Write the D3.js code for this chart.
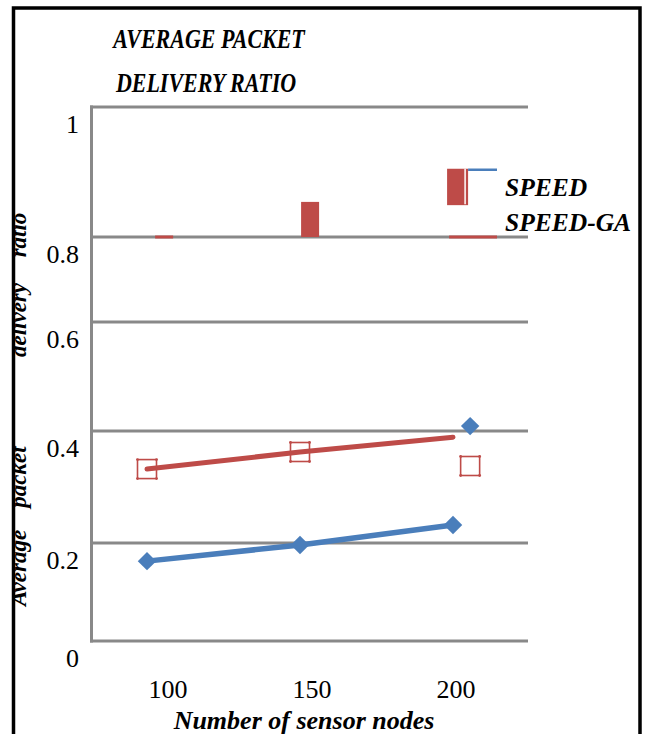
<!DOCTYPE html>
<html>
<head>
<meta charset="utf-8">
<script src="https://cdn.jsdelivr.net/npm/d3@7"></script>
<style>
  html, body { margin: 0; padding: 0; background: #fff; }
  svg { display: block; }
  text { font-family: "Liberation Serif", "Times New Roman", serif; }
</style>
</head>
<body>
<script>
// Number of sensor nodes on the x axis
const nodes = [100, 150, 200];
// Average packet delivery ratio per protocol
const speedValues = [0.163, 0.196, 0.232];
const speedGaValues = [0.332, 0.3625, 0.389];
// Stray markers drawn beside the last category
const speedExtra = { x: 205.6, v: 0.409 };
const speedGaExtra = { x: 205.6, v: 0.3375 };
// Y ticks and x tick labels
const yTicks = [0, 0.2, 0.4, 0.6, 0.8, 1];
const yTickLabels = ["0", "0.2", "0.4", "0.6", "0.8", "1"];
const xTickLabels = ["100", "150", "200"];
// Legend swatch blocks (x in node units, value range)
const swatchBlocks = [
  { x: 105.6, w: 18, v0: 0.8, v1: 0.8 },
  { x: 153.3, w: 18, v0: 0.8, v1: 0.854 },
  { x: 201.5, w: 21, v0: 0.849, v1: 0.905 }
];
const seriesNames = ["SPEED", "SPEED-GA"];

const W = 647, H = 734;
const BLUE = "#4a7ebb", RED = "#be4b48", GRID = "#898989";

const svg = d3.select("body").append("svg").attr("width", W).attr("height", H);

// Scales: y follows the chart's uneven grid spacing
const x = d3.scaleLinear().domain([100, 200]).range([147, 453]);
const xLab = d3.scaleLinear().domain([100, 200]).range([168, 456]);
const y = d3.scaleLinear().domain(yTicks).range([641, 543, 431, 322, 237, 107]);

// Outer frame
svg.append("path")
  .attr("d", `M13.5,${H + 5} V8 H640 V${H + 5}`)
  .attr("fill", "none").attr("stroke", "#000").attr("stroke-width", 3.5);

// Title (slightly tall lettering)
[["AVERAGE PACKET", 209, 48], ["DELIVERY RATIO", 206, 92]].forEach(([t, tx, ty]) => {
  svg.append("text")
    .attr("transform", `translate(${tx},${ty}) scale(1,1.2)`)
    .attr("text-anchor", "middle")
    .attr("font-weight", "bold").attr("font-style", "italic")
    .attr("font-size", 22)
    .text(t);
});

// Horizontal gridlines
const plotRight = 528;
svg.append("g").selectAll("line").data(yTicks).join("line")
  .attr("x1", 90).attr("x2", plotRight)
  .attr("y1", d => y(d)).attr("y2", d => y(d))
  .attr("stroke", GRID).attr("stroke-width", 3);
// Left plot edge
svg.append("line")
  .attr("x1", 91.5).attr("x2", 91.5).attr("y1", y(1) - 1.5).attr("y2", y(0) + 1.5)
  .attr("stroke", GRID).attr("stroke-width", 3);

// Y tick labels
svg.append("g").selectAll("text").data(yTicks).join("text")
  .attr("x", 79).attr("y", d => y(d) + 26)
  .attr("text-anchor", "end").attr("font-size", 26)
  .text((d, i) => yTickLabels[i]);

// X tick labels
svg.append("g").selectAll("text").data(nodes).join("text")
  .attr("x", d => xLab(d)).attr("y", 698)
  .attr("text-anchor", "middle").attr("font-size", 26)
  .text((d, i) => xTickLabels[i]);

// X axis title
svg.append("text")
  .attr("x", 304).attr("y", 729).attr("text-anchor", "middle")
  .attr("font-weight", "bold").attr("font-style", "italic").attr("font-size", 26)
  .text("Number of sensor nodes");

// Y axis title, clipped by the frame
svg.append("clipPath").attr("id", "ytclip")
  .append("rect").attr("x", 15).attr("y", 0).attr("width", 60).attr("height", H);
const yWords = [
  { w: "Average", c: 568 },
  { w: "packet", c: 477 },
  { w: "delivery", c: 320 },
  { w: "ratio", c: 235 }
];
const yt = svg.append("g").attr("clip-path", "url(#ytclip)");
yt.selectAll("text").data(yWords).join("text")
  .attr("transform", d => `translate(26,${d.c}) rotate(-90)`)
  .attr("text-anchor", "middle")
  .attr("font-weight", "bold").attr("font-style", "italic").attr("font-size", 23)
  .text(d => d.w);

// Legend swatches
svg.append("g").selectAll("rect").data(swatchBlocks).join("rect")
  .attr("x", d => x(d.x) - d.w / 2)
  .attr("width", d => d.w)
  .attr("y", d => (d.v1 === d.v0 ? y(d.v0) - 1.5 : y(d.v1)))
  .attr("height", d => (d.v1 === d.v0 ? 3 : y(d.v0) - y(d.v1)))
  .attr("fill", RED);
const lastBlock = swatchBlocks[2];
svg.append("line")
  .attr("x1", x(lastBlock.x) + 7.5).attr("x2", x(lastBlock.x) + 7.5)
  .attr("y1", y(lastBlock.v1)).attr("y2", y(lastBlock.v0) - 1)
  .attr("stroke", "#fff").attr("stroke-width", 1.5);
svg.append("line")
  .attr("x1", x(lastBlock.x) + lastBlock.w / 2).attr("x2", 497)
  .attr("y1", y(lastBlock.v1) + 1).attr("y2", y(lastBlock.v1) + 1)
  .attr("stroke", BLUE).attr("stroke-width", 2.5);
svg.append("line")
  .attr("x1", x(lastBlock.x) - lastBlock.w / 2 + 2).attr("x2", 497)
  .attr("y1", y(0.8)).attr("y2", y(0.8))
  .attr("stroke", RED).attr("stroke-width", 3);

// Legend labels
svg.append("g").selectAll("text").data(seriesNames).join("text")
  .attr("x", 505).attr("y", (d, i) => 196 + i * 35)
  .attr("font-weight", "bold").attr("font-style", "italic").attr("font-size", 25.5)
  .text(d => d);

// Series lines
const line = d3.line().x(d => x(d[0])).y(d => y(d[1]));
const speedPts = nodes.map((n, i) => [n, speedValues[i]]);
const gaPts = nodes.map((n, i) => [n, speedGaValues[i]]);

svg.append("path").datum(gaPts).attr("d", line)
  .attr("fill", "none").attr("stroke", RED).attr("stroke-width", 5)
  .attr("stroke-linecap", "round");
svg.append("path").datum(speedPts).attr("d", line)
  .attr("fill", "none").attr("stroke", BLUE).attr("stroke-width", 5.5)
  .attr("stroke-linecap", "round");

// Hollow square markers for SPEED-GA
const squares = gaPts.slice(0, 2).concat([[speedGaExtra.x, speedGaExtra.v]]);
const sq = svg.append("g").selectAll("g").data(squares).join("g")
  .attr("transform", d => `translate(${x(d[0])},${y(d[1])})`);
sq.append("rect").attr("x", -9.5).attr("y", -9.5).attr("width", 19).attr("height", 19)
  .attr("fill", "none").attr("stroke", RED).attr("stroke-width", 1.6);
sq.selectAll("circle").data([[-9.5, -9.5], [9.5, -9.5], [-9.5, 9.5], [9.5, 9.5]]).join("circle")
  .attr("cx", d => d[0]).attr("cy", d => d[1]).attr("r", 1.4).attr("fill", RED);

// Diamond markers for SPEED
const diamonds = speedPts.concat([[speedExtra.x, speedExtra.v]]);
const diamond = d3.symbol(d3.symbolSquare, 170);
svg.append("g").selectAll("path").data(diamonds).join("path")
  .attr("d", diamond)
  .attr("transform", d => `translate(${x(d[0])},${y(d[1])}) rotate(45)`)
  .attr("fill", BLUE);
</script>
</body>
</html>
